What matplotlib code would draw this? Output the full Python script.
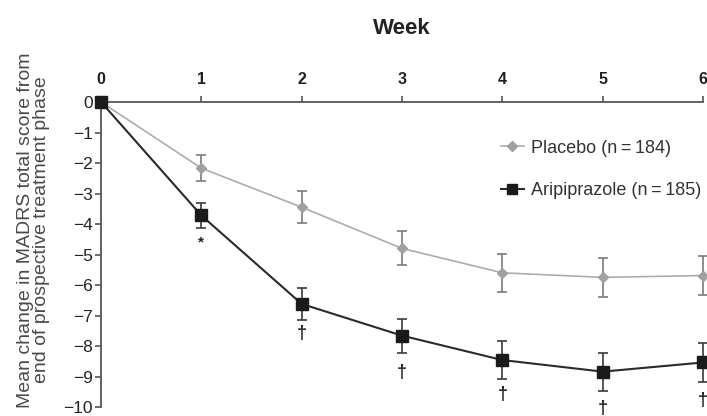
import matplotlib
matplotlib.use("Agg")
import matplotlib.pyplot as plt
from matplotlib.lines import Line2D

plt.rcParams['font.family'] = ['Liberation Sans', 'DejaVu Sans']

weeks = [0, 1, 2, 3, 4, 5, 6]
placebo = [0, -2.17, -3.45, -4.8, -5.6, -5.75, -5.69]
placebo_err = [0, 0.42, 0.53, 0.56, 0.62, 0.63, 0.63]
arip = [0, -3.72, -6.62, -7.66, -8.46, -8.84, -8.54]
arip_err = [0, 0.42, 0.53, 0.56, 0.62, 0.62, 0.65]
sig_marks = ['', '*', '†', '†', '†', '†', '†']
sig_y = [None, -4.6, -7.6, -8.88, -9.6, -10.05, -9.8]
yticks = list(range(0, -11, -1))

fig = plt.figure(figsize=(7.07, 4.16), dpi=100)
ax = fig.add_axes([0.1429, 0.0216, 0.8514, 0.7332])

ax.errorbar(weeks, placebo, yerr=placebo_err, color='#acacac', ecolor='#7a7a7a',
            elinewidth=1.2, capsize=3.5, capthick=1.2, marker='D', ms=5.5,
            mfc='#a0a0a0', mec='#a0a0a0', lw=1.2, clip_on=False, zorder=3)
ax.errorbar(weeks, arip, yerr=arip_err, color='#2a2a2a', ecolor='#3a3a3a',
            elinewidth=1.2, capsize=3.5, capthick=1.2, marker='s', ms=8.5,
            mfc='#1a1a1a', mec='#1a1a1a', lw=1.5, clip_on=False, zorder=4)

for w, m, y in zip(weeks, sig_marks, sig_y):
    if m:
        ax.text(w, y, m, ha='center', va='center', fontsize=13 if m == '†' else 11,
                color='#222222', fontweight='bold', clip_on=False)

ax.set_xlim(0, 6)
ax.set_ylim(-10, 0)
ax.set_yticks(yticks)
ax.set_xticks(weeks)
ax.xaxis.tick_top()
ax.xaxis.set_label_position('top')
ax.spines['bottom'].set_visible(False)
ax.spines['right'].set_visible(False)
ax.spines['top'].set_position(('data', 0))
for s in ['top', 'left']:
    ax.spines[s].set_color('#555555')
    ax.spines[s].set_linewidth(1.3)
ax.tick_params(axis='x', direction='out', length=4, width=1.2, color='#555555',
               labelsize=11.5, pad=7, labelcolor='#222222')
ax.tick_params(axis='y', direction='out', length=4, width=1.2, color='#555555',
               labelsize=12.5, pad=2, labelcolor='#222222')
for lbl in ax.get_xticklabels():
    lbl.set_fontweight('bold')
ax.set_xlabel('Week', fontsize=16, fontweight='bold', labelpad=27, color='#222222')
ax.set_ylabel('Mean change in MADRS total score from\nend of prospective treatment phase',
              fontsize=14, color='#4a4a4a', linespacing=0.95)
ax.yaxis.set_label_coords(-0.085, 0.58)

handles = [Line2D([], [], color='#acacac', marker='D', ms=5, mfc='#a0a0a0', mec='#a0a0a0', lw=1.2),
           Line2D([], [], color='#2a2a2a', marker='s', ms=6.5, mfc='#1a1a1a', mec='#1a1a1a', lw=1.5)]
ax.legend(handles, ['Placebo (n\u2009=\u2009184)', 'Aripiprazole (n\u2009=\u2009185)'], loc='upper left',
          bbox_to_anchor=(0.652, 0.90), frameon=False, fontsize=13, handlelength=1.3,
          handletextpad=0.4, labelspacing=1.4, labelcolor='#333333', borderaxespad=0)

fig.savefig('out.png', dpi=100)
